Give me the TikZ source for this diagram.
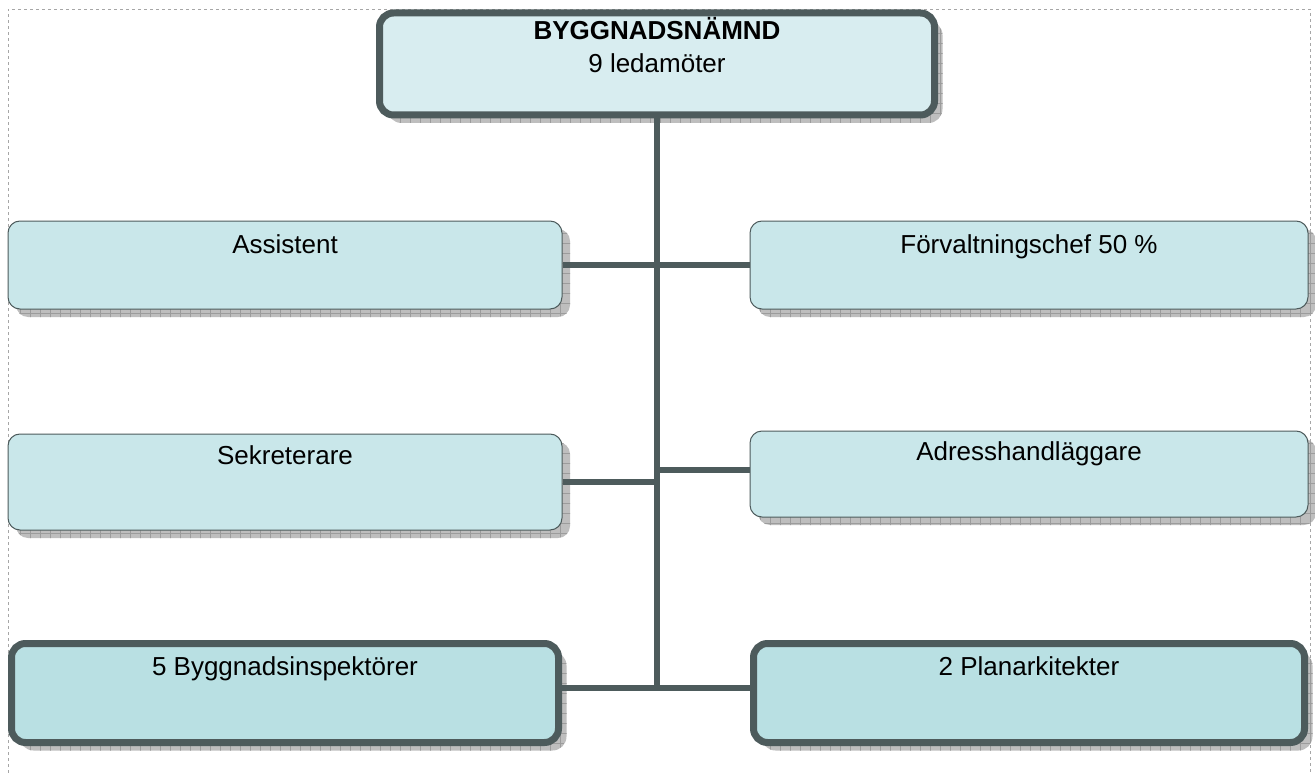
\documentclass[tikz,border=0pt]{standalone}
\usepackage{fontspec}
\setmainfont{Liberation Sans}
\usetikzlibrary{shadows,patterns.meta}
\definecolor{bordc}{HTML}{4D5B5C}
\definecolor{topfill}{HTML}{D8EDF0}
\definecolor{midfill}{HTML}{C9E7EA}
\definecolor{botfill}{HTML}{B9E0E3}
\definecolor{shadc}{HTML}{BEBEBE}
\definecolor{shadl}{HTML}{9C9C9C}
\tikzset{
  boxshadow/.style={
    general shadow={shadow xshift=8pt, shadow yshift=-8pt, fill=shadc},
    general shadow={shadow xshift=8pt, shadow yshift=-8pt,
      pattern={Lines[angle=0,distance=10pt,line width=0.7pt]}, pattern color=shadl},
    general shadow={shadow xshift=8pt, shadow yshift=-8pt,
      pattern={Lines[angle=90,distance=10pt,line width=0.7pt]}, pattern color=shadl}},
  thinbox/.style={draw=bordc, line width=1pt, rounded corners=12pt, fill=midfill,
    minimum width=554pt, minimum height=88pt, inner sep=0pt, boxshadow},
  thickbox/.style={draw=bordc, line width=7pt, rounded corners=14pt,
    inner sep=0pt, boxshadow},
  lbl/.style={anchor=base, inner sep=0pt, font=\fontsize{26}{31}\selectfont},
  conn/.style={draw=bordc, line width=6pt}
}
\begin{document}
\begin{tikzpicture}[x=1pt,y=1pt]
\useasboundingbox (0,0) rectangle (1315,-773);
\draw[gray!70, line width=0.8pt, dash pattern=on 3pt off 3pt] (8,-773) -- (8,-9) -- (1310,-9) -- (1310,-773);

\coordinate (trunkend) at (657,-688);

% boxes
\node[thickbox, fill=topfill, minimum width=555pt, minimum height=102pt] (top) at (657,-64) {};
\node[thinbox, minimum height=88pt] (assist) at (285,-265) {};
\node[thinbox, minimum width=558pt, minimum height=88pt] (forv) at (1029,-265) {};
\node[thinbox, minimum height=96pt] (sekr) at (285,-482) {};
\node[thinbox, minimum width=558pt, minimum height=86pt] (adr) at (1029,-474) {};
\node[thickbox, fill=botfill, minimum width=547pt, minimum height=99pt] (insp) at (285,-693) {};
\node[thickbox, fill=botfill, minimum width=551pt, minimum height=99pt] (plan) at (1029,-693) {};

% connectors
\draw[conn] (top.south) -- (trunkend);
\draw[conn] (assist.east) -- (assist.east -| trunkend);
\draw[conn] (forv.west) -- (forv.west -| trunkend);
\draw[conn] (sekr.east) -- (sekr.east -| trunkend);
\draw[conn] ([yshift=4pt]adr.west) -- ([yshift=4pt]adr.west -| trunkend);
\draw[conn] ([yshift=5pt]insp.east) -- ([yshift=5pt]insp.east -| trunkend);
\draw[conn] ([yshift=5pt]plan.west) -- ([yshift=5pt]plan.west -| trunkend);

% texts
\node[lbl, font=\fontsize{26}{31}\selectfont\bfseries] (toptitle) at (657,-40) {BYGGNADSNÄMND};
\node[lbl] (topsub) at (657,-73) {9 ledamöter};
\node[lbl] (assisttxt) at (285,-253) {Assistent};
\node[lbl] (forvtxt) at (1029,-253) {Förvaltningschef 50 \%};
\node[lbl] (sekrtxt) at (285,-464) {Sekreterare};
\node[lbl] (adrtxt) at (1029,-460) {Adresshandläggare};
\node[lbl] (insptxt) at (285,-675) {5 Byggnadsinspektörer};
\node[lbl] (plantxt) at (1029,-675) {2 Planarkitekter};
\end{tikzpicture}
\end{document}
